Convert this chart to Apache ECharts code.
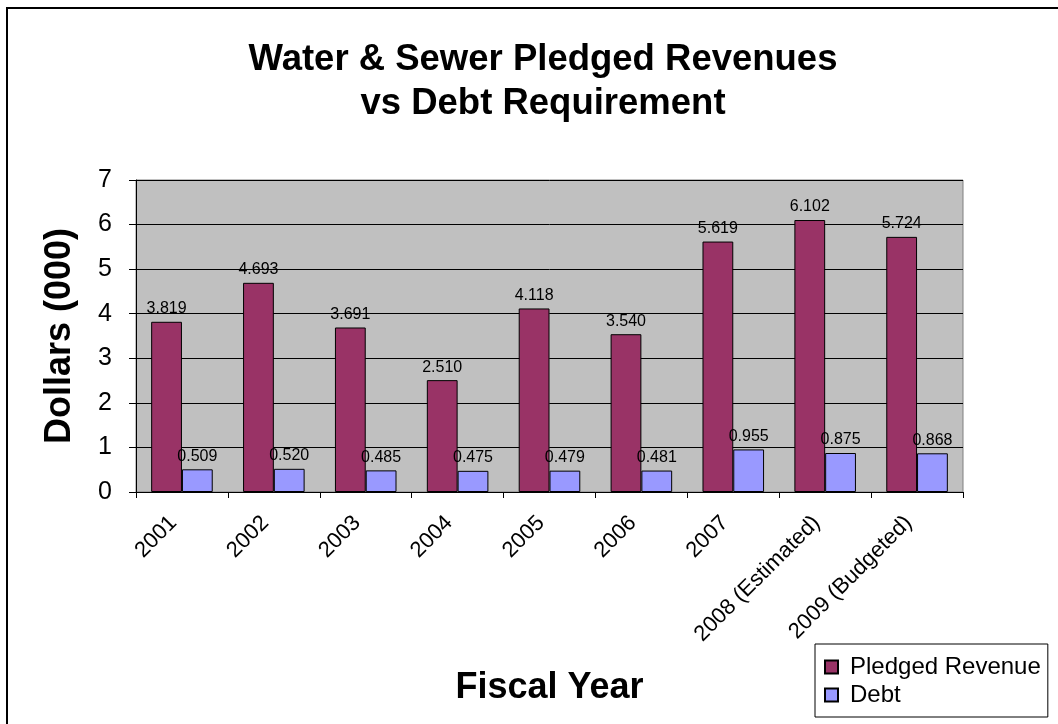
<!DOCTYPE html>
<html>
<head>
<meta charset="utf-8">
<title>Water & Sewer Pledged Revenues vs Debt Requirement</title>
<script src="https://cdn.jsdelivr.net/npm/echarts@6/dist/echarts.min.js"></script>
<style>
  html, body { margin: 0; padding: 0; background: #ffffff; }
  #chart { width: 1058px; height: 724px; }
</style>
</head>
<body>
<div id="chart"></div>
<script>
// Fiscal years on the category axis
const fiscalYears = ['2001', '2002', '2003', '2004', '2005', '2006', '2007', '2008 (Estimated)', '2009 (Budgeted)'];
// Pledged revenue per year, dollars (000)
const pledgedRevenue = [3.819, 4.693, 3.691, 2.510, 4.118, 3.540, 5.619, 6.102, 5.724];
// Debt requirement per year, dollars (000)
const debt = [0.509, 0.520, 0.485, 0.475, 0.479, 0.481, 0.955, 0.875, 0.868];
// Value axis ticks
const yTicks = [0, 1, 2, 3, 4, 5, 6, 7];

const FONT = 'Liberation Sans, Arial, sans-serif';

const chart = echarts.init(document.getElementById('chart'), null, { renderer: 'canvas' });

const valueLabel = {
  show: true,
  position: 'top',
  distance: 5,
  color: '#000',
  fontFamily: FONT,
  fontSize: 16,
  formatter: p => p.value.toFixed(3)
};

chart.setOption({
  backgroundColor: '#ffffff',
  animation: false,
  title: {
    text: 'Water & Sewer Pledged Revenues\nvs Debt Requirement',
    left: 538,
    textAlign: 'center',
    top: 33,
    textStyle: {
      fontFamily: FONT,
      fontSize: 36.5,
      fontWeight: 'bold',
      lineHeight: 44,
      color: '#000'
    }
  },
  graphic: [{
    type: 'rect',
    shape: { x: 7, y: 8, width: 1200, height: 900 },
    style: { fill: 'none', stroke: '#000', lineWidth: 2 },
    silent: true,
    z: -1
  }],
  legend: {
    orient: 'vertical',
    left: 815,
    top: 644,
    padding: [11, 7, 10, 9],
    itemGap: 4,
    itemWidth: 13,
    itemHeight: 13,
    icon: 'rect',
    borderColor: '#000',
    borderWidth: 1,
    backgroundColor: '#fff',
    textStyle: {
      fontFamily: FONT,
      fontSize: 24,
      lineHeight: 24,
      color: '#000',
      padding: [0, 0, 0, 7]
    },
    data: ['Pledged Revenue', 'Debt']
  },
  grid: {
    left: 136,
    right: 95,
    top: 180,
    bottom: 232,
    show: true,
    backgroundColor: '#C0C0C0',
    borderColor: '#808080',
    borderWidth: 1
  },
  xAxis: {
    type: 'category',
    data: fiscalYears,
    name: 'Fiscal Year',
    nameLocation: 'middle',
    nameGap: 178,
    nameTextStyle: {
      fontFamily: FONT,
      fontSize: 36,
      fontWeight: 'bold',
      color: '#000'
    },
    axisLine: { lineStyle: { color: '#000', width: 1 } },
    axisTick: { show: true, alignWithLabel: false, length: 6, lineStyle: { color: '#000' } },
    axisLabel: {
      rotate: 45,
      interval: 0,
      margin: 19,
      padding: [0, 12, 0, 0],
      fontFamily: FONT,
      fontSize: 22,
      color: '#000'
    },
    splitLine: { show: false }
  },
  yAxis: {
    type: 'value',
    min: yTicks[0],
    max: yTicks[yTicks.length - 1],
    interval: 1,
    name: 'Dollars (000)',
    nameLocation: 'middle',
    nameRotate: 90,
    nameGap: 58,
    nameTextStyle: {
      fontFamily: FONT,
      fontSize: 36,
      fontWeight: 'bold',
      color: '#000'
    },
    axisLine: { show: true, lineStyle: { color: '#000', width: 1 } },
    axisTick: { show: true, length: 7, lineStyle: { color: '#000' } },
    axisLabel: {
      margin: 24,
      fontFamily: FONT,
      fontSize: 25,
      color: '#000'
    },
    splitLine: { show: true, lineStyle: { color: '#000', width: 1 } }
  },
  series: [
    {
      name: 'Pledged Revenue',
      type: 'bar',
      data: pledgedRevenue,
      barGap: '0%',
      barCategoryGap: '33%',
      itemStyle: { color: '#993366', borderColor: '#000', borderWidth: 1 },
      label: valueLabel
    },
    {
      name: 'Debt',
      type: 'bar',
      data: debt,
      barGap: '0%',
      barCategoryGap: '33%',
      itemStyle: { color: '#9999FF', borderColor: '#000', borderWidth: 1 },
      label: valueLabel
    }
  ]
});
</script>
</body>
</html>
